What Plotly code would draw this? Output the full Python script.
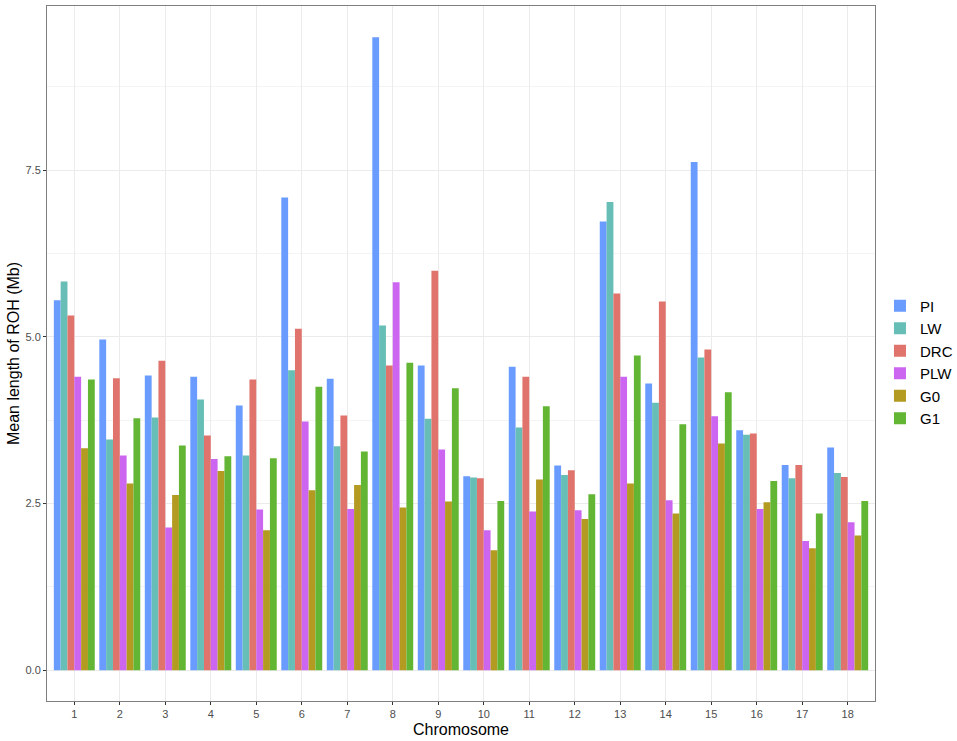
import plotly.graph_objects as go

chromosomes = [str(i) for i in range(1, 19)]
PI  = [5.55, 4.96, 4.42, 4.40, 3.97, 7.09, 4.37, 9.49, 4.57, 2.91, 4.55, 3.07, 6.73, 4.30, 7.62, 3.60, 3.08, 3.34]
LW  = [5.83, 3.46, 3.79, 4.06, 3.22, 4.50, 3.36, 5.17, 3.77, 2.89, 3.64, 2.93, 7.02, 4.01, 4.69, 3.53, 2.88, 2.96]
DRC = [5.32, 4.38, 4.64, 3.52, 4.36, 5.12, 3.82, 4.57, 5.99, 2.88, 4.40, 3.00, 5.65, 5.53, 4.81, 3.55, 3.08, 2.90]
PLW = [4.40, 3.22, 2.14, 3.17, 2.41, 3.73, 2.42, 5.82, 3.31, 2.10, 2.38, 2.40, 4.40, 2.55, 3.81, 2.42, 1.94, 2.22]
G0  = [3.33, 2.80, 2.63, 2.99, 2.10, 2.70, 2.78, 2.44, 2.53, 1.80, 2.86, 2.27, 2.80, 2.35, 3.40, 2.52, 1.83, 2.02]
G1  = [4.36, 3.78, 3.37, 3.21, 3.18, 4.25, 3.28, 4.61, 4.23, 2.54, 3.96, 2.64, 4.72, 3.69, 4.17, 2.84, 2.35, 2.54]

series = [("PI", PI, "#6A9BFF"), ("LW", LW, "#66BEB6"), ("DRC", DRC, "#E0736B"),
          ("PLW", PLW, "#CC66F0"), ("G0", G0, "#B39A20"), ("G1", G1, "#63B534")]

fig = go.Figure()
for name, vals, col in series:
    fig.add_trace(go.Bar(x=chromosomes, y=vals, name=name,
                         marker=dict(color=col, line=dict(width=0))))

font = "Liberation Sans, Arial, sans-serif"
fig.update_layout(
    width=957, height=741,
    margin=dict(l=47, r=82, t=6, b=40, autoexpand=False),
    paper_bgcolor="white", plot_bgcolor="white",
    barmode="group", bargap=0.1, bargroupgap=0,
    font=dict(family=font, color="#000"),
    legend=dict(x=1.006, y=0.592, xanchor="left", yanchor="top",
                font=dict(size=15, family=font, color="#000"),
                tracegroupgap=0, itemwidth=30, bgcolor="rgba(0,0,0,0)"),
    xaxis=dict(type="category", range=[-0.6, 17.6], automargin=False,
               showgrid=True, gridcolor="#ebebeb", gridwidth=1,
               ticks="outside", ticklen=3, tickcolor="#333", tickwidth=1,
               tickfont=dict(size=11, color="#4d4d4d", family=font),
               showline=True, mirror=True, linecolor="#7f7f7f", linewidth=1,
               zeroline=False,
               title=dict(text="Chromosome", font=dict(size=16, family=font), standoff=4)),
    yaxis=dict(range=[-0.46, 9.96], tickvals=[0, 2.5, 5, 7.5], tickformat=".1f",
               automargin=False,
               showgrid=True, gridcolor="#ebebeb", gridwidth=1,
               minor=dict(tickvals=[1.25, 3.75, 6.25, 8.75], showgrid=True,
                          gridcolor="#f4f4f4", gridwidth=1, ticks=""),
               ticks="outside", ticklen=3, tickcolor="#333", tickwidth=1,
               tickfont=dict(size=11, color="#4d4d4d", family=font),
               showline=True, mirror=True, linecolor="#7f7f7f", linewidth=1,
               zeroline=False,
               title=dict(text="Mean length of ROH (Mb)", font=dict(size=16, family=font), standoff=1)),
)

fig.write_html("out.html", config={"displayModeBar": False},
               post_script="document.body.style.margin='0';")
